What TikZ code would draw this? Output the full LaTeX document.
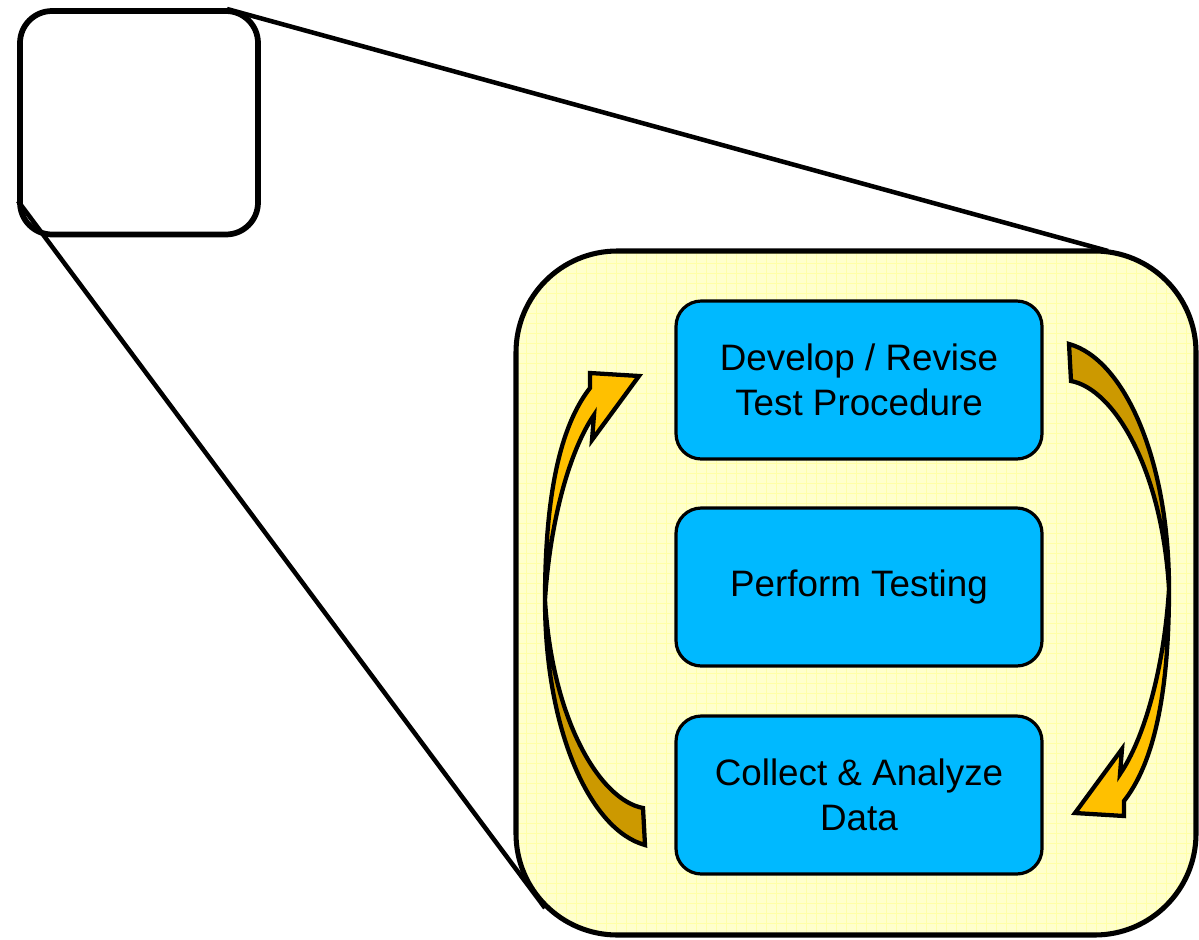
\documentclass[tikz,border=0pt]{standalone}
\usepackage{fontspec}
\setmainfont{Liberation Sans}
\definecolor{boxblue}{HTML}{00B9FF}
\definecolor{paleyel}{HTML}{FFFFCC}
\definecolor{gridyel}{HTML}{FFFFA8}
\definecolor{goldlt}{HTML}{FFC000}
\definecolor{golddk}{HTML}{CC9900}
\tikzset{
  stepbox/.style={draw=black, line width=2.4pt, fill=boxblue, rounded corners=19pt,
    minimum width=274.5pt, minimum height=118.5pt, inner sep=0pt, align=center,
    font=\fontsize{27.6}{33.75}\selectfont},
  outline/.style={draw=black, line width=3.2pt, line join=miter},
  connector/.style={draw=black, line width=3.4pt},
}
\begin{document}
\begin{tikzpicture}[x=0.75pt,y=-0.75pt]
\useasboundingbox (0,0) rectangle (1199,939);
% small box
\node[draw=black, line width=4.3pt, fill=white, rounded corners=24pt,
  minimum width=178.5pt, minimum height=167.6pt, inner sep=0pt] (small) at (139,122.75) {};
% connector end points
\coordinate (s1) at (227,9);
\coordinate (s2) at (18,201);
\coordinate (b1) at (1108,251);
\coordinate (b2) at (545,908);
\draw[connector] (s1) -- (b1);
\draw[connector] (s2) -- (b2);
% big box
\node[draw=black, line width=3.8pt, fill=paleyel, rounded corners=76pt,
  minimum width=510pt, minimum height=513pt, inner sep=0pt,
  path picture={\draw[gridyel, line width=0.4pt, step=7.5pt]
    (path picture bounding box.south west) grid (path picture bounding box.north east);}]
  (big) at (856,593) {};
% step boxes
\node[stepbox] (dev) at (859,380) {Develop / Revise\\Test Procedure};
\node[stepbox] (perf) at (859,587) {Perform Testing};
\node[stepbox] (coll) at (859,795) {Collect \& Analyze\\Data};
% left curved arrow
\begin{scope}
  \path[outline, fill=goldlt] (545,600) .. controls (545,480) and (565,420) .. (590,388)
     -- (590,373) -- (639,376) -- (592,440) -- (594,415)
     .. controls (570,450) and (550,520) .. (545,600) -- cycle;
  \path[outline, fill=golddk] (545,600) .. controls (545,730) and (590,830) .. (645,845)
     -- (643,808) .. controls (600,800) and (552,720) .. (545,600) -- cycle;
\end{scope}
% right curved arrow
\begin{scope}[rotate around={180:(857,594.5)}]
  \path[outline, fill=goldlt] (545,600) .. controls (545,480) and (565,420) .. (590,388)
     -- (590,373) -- (639,376) -- (592,440) -- (594,415)
     .. controls (570,450) and (550,520) .. (545,600) -- cycle;
  \path[outline, fill=golddk] (545,600) .. controls (545,730) and (590,830) .. (645,845)
     -- (643,808) .. controls (600,800) and (552,720) .. (545,600) -- cycle;
\end{scope}
\end{tikzpicture}
\end{document}
